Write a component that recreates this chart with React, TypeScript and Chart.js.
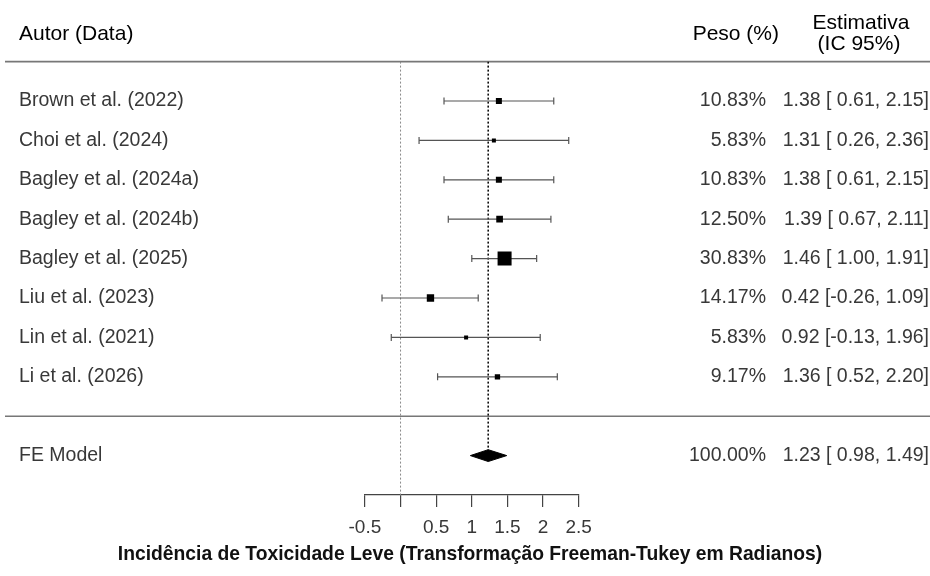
import React, { useEffect, useRef } from 'react';
import { Chart, registerables } from 'chart.js';

Chart.register(...registerables);

// ---------- data ----------
const studies = [
  'Brown et al. (2022)',
  'Choi et al. (2024)',
  'Bagley et al. (2024a)',
  'Bagley et al. (2024b)',
  'Bagley et al. (2025)',
  'Liu et al. (2023)',
  'Lin et al. (2021)',
  'Li et al. (2026)',
];
const estimates = [1.38, 1.31, 1.38, 1.39, 1.46, 0.42, 0.92, 1.36];
const lowerCI = [0.61, 0.26, 0.61, 0.67, 1.0, -0.26, -0.13, 0.52];
const upperCI = [2.15, 2.36, 2.15, 2.11, 1.91, 1.09, 1.96, 2.2];
const weights = [10.83, 5.83, 10.83, 12.5, 30.83, 14.17, 5.83, 9.17];

const pooledLabel = 'FE Model';
const pooledEstimate = 1.23;
const pooledLower = 0.98;
const pooledUpper = 1.49;
const pooledWeight = 100.0;

const referenceValue = 0;
const axisTicks = [-0.5, 0, 0.5, 1, 1.5, 2, 2.5];
const axisTickLabels = ['-0.5', '', '0.5', '1', '1.5', '2', '2.5'];

const headerLabel = 'Autor (Data)';
const headerWeight = 'Peso (%)';
const headerEstimate = ['Estimativa', '(IC 95%)'];
const xTitle = 'Incidência de Toxicidade Leve (Transformação Freeman-Tukey em Radianos)';

// ---------- layout / style ----------
const FONT = '"Liberation Sans", Arial, Helvetica, sans-serif';
const FONT_SIZE = 19.5;
const HEADER_SIZE = 21;
const TEXT_COLOR = '#383838';
const HEADER_COLOR = '#000';
const CI_COLOR = '#555';
const rowOf = (i: number) => i + 1;
const pooledRow = studies.length + 2;
const separatorRow = studies.length + 1;
const yMax = studies.length + 3;
const diamondHalf = 0.15;

const fmt = (v: number) => v.toFixed(2);
const fmtLower = (v: number) => (v < 0 ? v.toFixed(2) : ' ' + v.toFixed(2));
const estText = (e: number, lo: number, hi: number) => `${fmt(e)} [${fmtLower(lo)}, ${fmt(hi)}]`;

const forestText = {
  id: 'forestText',
  beforeDatasetsDraw(chart: any) {
    const { ctx } = chart;
    const y = chart.scales.y;
    ctx.save();
    ctx.strokeStyle = '#777';
    ctx.lineWidth = 1.6;
    [0, separatorRow].forEach((v) => {
      const py = y.getPixelForValue(v);
      ctx.beginPath();
      ctx.moveTo(5, py);
      ctx.lineTo(chart.width, py);
      ctx.stroke();
    });
    ctx.restore();
  },
  afterDraw(chart: any) {
    const { ctx } = chart;
    const y = chart.scales.y;
    ctx.save();
    ctx.textBaseline = 'middle';

    // header
    ctx.fillStyle = HEADER_COLOR;
    ctx.font = `${HEADER_SIZE}px ${FONT}`;
    ctx.textAlign = 'left';
    ctx.fillText(headerLabel, 19, 34);
    ctx.textAlign = 'right';
    ctx.fillText(headerWeight, 779, 34);
    ctx.textAlign = 'center';
    ctx.fillText(headerEstimate[0], 861, 23);
    ctx.fillText(headerEstimate[1], 859, 44);

    // rows
    ctx.fillStyle = TEXT_COLOR;
    ctx.font = `${FONT_SIZE}px ${FONT}`;
    studies.forEach((s, i) => {
      const py = y.getPixelForValue(rowOf(i));
      ctx.textAlign = 'left';
      ctx.fillText(s, 19, py);
      ctx.textAlign = 'right';
      ctx.fillText(weights[i].toFixed(2) + '%', 766, py);
      ctx.fillText(estText(estimates[i], lowerCI[i], upperCI[i]), 929, py);
    });

    const pp = y.getPixelForValue(pooledRow);
    ctx.textAlign = 'left';
    ctx.fillText(pooledLabel, 19, pp);
    ctx.textAlign = 'right';
    ctx.fillText(pooledWeight.toFixed(2) + '%', 766, pp);
    ctx.fillText(estText(pooledEstimate, pooledLower, pooledUpper), 929, pp);

    // title
    ctx.fillStyle = '#111';
    ctx.font = `bold 19.3px ${FONT}`;
    ctx.textAlign = 'center';
    ctx.fillText(xTitle, 470, 555);
    ctx.restore();
  },
};

export default function App() {
  const ref = useRef<HTMLCanvasElement>(null);

  useEffect(() => {
    document.body.style.margin = '0';
    const canvas = ref.current;
    if (!canvas) return;

    const datasets: any[] = [];

    // study squares
    datasets.push({
      label: 'estimates',
      data: estimates.map((e, i) => ({ x: e, y: rowOf(i) })),
      showLine: false,
      pointStyle: 'rect',
      pointRadius: (c: any) => (1.67 + 0.4 * weights[c.dataIndex]) / Math.SQRT2,
      pointBackgroundColor: '#000',
      pointBorderColor: '#000',
      pointBorderWidth: 0,
      order: 0,
    });

    // pooled diamond
    datasets.push({
      label: 'pooled',
      data: [
        { x: pooledLower, y: pooledRow },
        { x: pooledEstimate, y: pooledRow - diamondHalf },
        { x: pooledUpper, y: pooledRow },
        { x: pooledEstimate, y: pooledRow + diamondHalf },
        { x: pooledLower, y: pooledRow },
      ],
      borderColor: '#000',
      backgroundColor: '#000',
      borderWidth: 1,
      fill: 'shape',
      pointRadius: 0,
      tension: 0,
      order: 1,
    });

    // CI lines
    studies.forEach((s, i) => {
      datasets.push({
        label: s,
        data: [
          { x: lowerCI[i], y: rowOf(i) },
          { x: upperCI[i], y: rowOf(i) },
        ],
        borderColor: CI_COLOR,
        borderWidth: 1.2,
        pointStyle: 'line',
        pointRotation: 90,
        pointRadius: 3.5,
        pointBorderColor: CI_COLOR,
        pointBorderWidth: 1.2,
        fill: false,
        tension: 0,
        order: 2,
      });
    });

    // pooled estimate dotted line
    datasets.push({
      label: 'pooledLine',
      data: [
        { x: pooledEstimate, y: 0 },
        { x: pooledEstimate, y: pooledRow },
      ],
      borderColor: '#000',
      borderWidth: 1.5,
      borderDash: [2, 2],
      pointRadius: 0,
      fill: false,
      order: 3,
    });

    // reference line at 0
    datasets.push({
      label: 'refLine',
      data: [
        { x: referenceValue, y: 0 },
        { x: referenceValue, y: yMax },
      ],
      borderColor: '#8a8a8a',
      borderWidth: 1,
      borderDash: [2, 2],
      pointRadius: 0,
      fill: false,
      order: 4,
    });

    const chart = new Chart(canvas, {
      type: 'line',
      data: { datasets },
      options: {
        animation: false,
        responsive: false,
        events: [],
        layout: {
          padding: { left: 364.9, right: 351.3, top: 61.6, bottom: 28.2 },
        },
        plugins: {
          legend: { display: false },
          tooltip: { enabled: false },
          title: { display: false },
        },
        scales: {
          x: {
            type: 'linear',
            min: axisTicks[0],
            max: axisTicks[axisTicks.length - 1],
            afterBuildTicks: (scale: any) => {
              scale.ticks = axisTicks.map((v) => ({ value: v }));
            },
            ticks: {
              autoSkip: false,
              maxRotation: 0,
              minRotation: 0,
              padding: 9,
              color: '#383838',
              font: { family: FONT, size: 19 },
              callback: (_v: any, idx: number) => axisTickLabels[idx],
            },
            grid: {
              display: true,
              drawOnChartArea: false,
              drawTicks: true,
              tickLength: 12,
              color: '#444',
              lineWidth: 1.2,
            },
            border: { display: true, color: '#444', width: 1.2 },
          },
          y: {
            type: 'linear',
            display: false,
            reverse: true,
            min: 0,
            max: yMax,
          },
        },
      },
      plugins: [forestText],
    } as any);

    return () => chart.destroy();
  }, []);

  return <canvas ref={ref} width={930} height={576} style={{ display: 'block' }} />;
}
